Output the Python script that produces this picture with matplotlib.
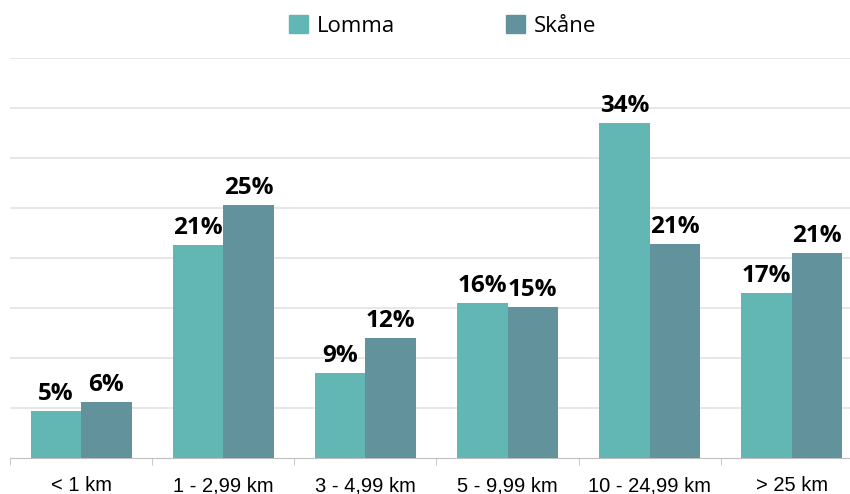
import numpy as np
import matplotlib.pyplot as plt
from matplotlib.patches import Patch

categories = ["< 1 km", "1 - 2,99 km", "3 - 4,99 km", "5 - 9,99 km", "10 - 24,99 km", "> 25 km"]
lomma = [4.7, 21.3, 8.5, 15.5, 33.5, 16.5]
skane = [5.6, 25.3, 12.0, 15.1, 21.4, 20.5]
lomma_labels = ["5%", "21%", "9%", "16%", "34%", "17%"]
skane_labels = ["6%", "25%", "12%", "15%", "21%", "21%"]

c_lomma = "#62B6B4"
c_skane = "#62939C"

plt.rcParams['font.family'] = ['Open Sans', 'DejaVu Sans']

fig = plt.figure(figsize=(8.5, 4.94), dpi=100)
# axes run a little past the right edge of the canvas, as in the original
ax = fig.add_axes([10/850, 1 - 458/494, 853/850, 400/494])

x = np.arange(len(categories))
w = 0.355
b1 = ax.bar(x - w/2, lomma, w, color=c_lomma, zorder=3)
b2 = ax.bar(x + w/2, skane, w, color=c_skane, zorder=3)

for bars, labels in [(b1, lomma_labels), (b2, skane_labels)]:
    for rect, lab in zip(bars, labels):
        ax.text(rect.get_x() + rect.get_width()/2, rect.get_height() + 0.5, lab,
                ha='center', va='bottom', fontsize=17.5, fontweight='bold')

ax.set_xlim(-0.5, len(categories) - 0.5)
ax.set_ylim(0, 40)
ax.set_yticks(np.arange(5, 41, 5))
ax.yaxis.grid(True, color='#E3E3E3', linewidth=1.2, zorder=0)
ax.tick_params(axis='y', left=False, labelleft=False)

ax.set_xticks(x)
ax.set_xticklabels(categories, fontsize=14.5, family=['Liberation Sans', 'DejaVu Sans'])
ax.set_xticks(np.arange(-0.5, len(categories), 1), minor=True)
ax.tick_params(axis='x', which='major', length=0, pad=13)
ax.tick_params(axis='x', which='minor', length=5, color='#BFBFBF')

for s in ['top', 'right', 'left']:
    ax.spines[s].set_visible(False)
ax.spines['bottom'].set_color('#BFBFBF')

handles = [Patch(color=c_lomma, label='Lomma'), Patch(color=c_skane, label='Skåne')]
fig.legend(handles=handles, loc='center', bbox_to_anchor=(0.521, 0.947), ncol=2,
           frameon=False, fontsize=16, handlelength=0.85, handleheight=0.85,
           handletextpad=0.4, columnspacing=5)

fig.savefig('out.png', dpi=100)
